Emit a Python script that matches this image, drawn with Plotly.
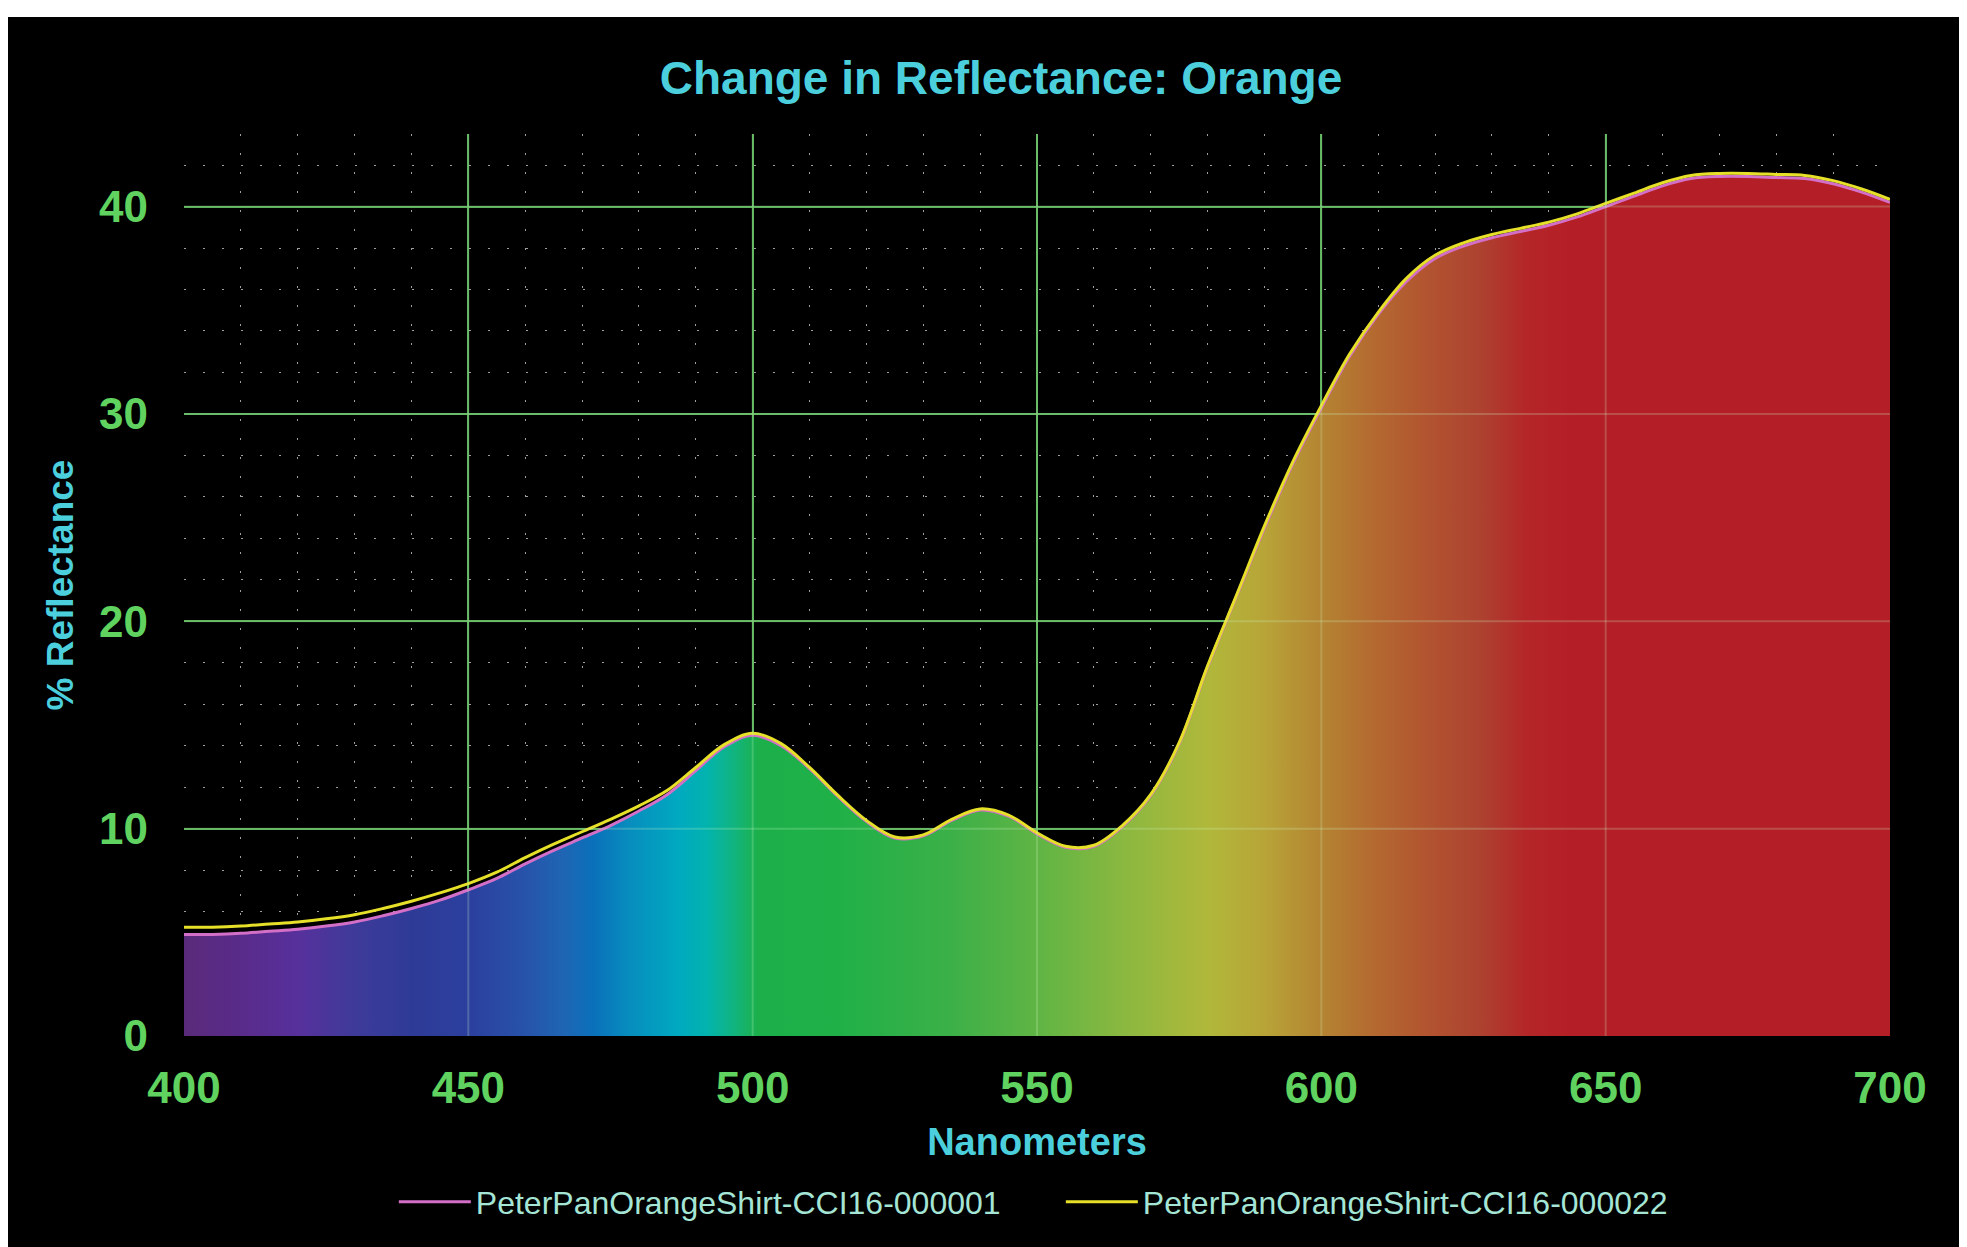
import plotly.graph_objects as go

# ---------------- data ----------------
wavelength_nm = [400, 405, 410, 415, 420, 425, 430, 435, 440, 445, 450, 455, 460, 465, 470,
                 475, 480, 485, 490, 495, 500, 505, 510, 515, 520, 525, 530, 535, 540, 545,
                 550, 555, 560, 565, 570, 575, 580, 585, 590, 595, 600, 605, 610, 615, 620,
                 625, 630, 635, 640, 645, 650, 655, 660, 665, 670, 675, 680, 685, 690, 695, 700]

shirt_000001 = [4.9, 4.9, 4.95, 5.05, 5.15, 5.3, 5.5, 5.8, 6.15, 6.55, 7.05, 7.6, 8.3, 8.95, 9.55,
                10.15, 10.85, 11.65, 12.8, 13.95, 14.5, 14.0, 12.9, 11.55, 10.35, 9.55, 9.65, 10.4, 10.9, 10.6,
                9.75, 9.1, 9.15, 10.1, 11.6, 14.1, 17.8, 21.15, 24.5, 27.6, 30.3, 32.8, 34.8, 36.4, 37.5,
                38.1, 38.5, 38.8, 39.1, 39.5, 40.0, 40.5, 41.0, 41.35, 41.45, 41.45, 41.4, 41.35, 41.1, 40.7, 40.2]

shirt_000022 = [5.25, 5.25, 5.3, 5.4, 5.5, 5.65, 5.85, 6.15, 6.5, 6.9, 7.35, 7.9, 8.6, 9.25, 9.85,
                10.45, 11.1, 11.85, 12.95, 14.05, 14.6, 14.1, 12.95, 11.6, 10.4, 9.6, 9.7, 10.45, 10.95, 10.65,
                9.8, 9.15, 9.2, 10.15, 11.65, 14.15, 17.85, 21.2, 24.6, 27.7, 30.4, 32.9, 34.9, 36.55, 37.65,
                38.25, 38.65, 38.95, 39.25, 39.65, 40.15, 40.65, 41.15, 41.5, 41.6, 41.6, 41.55, 41.5, 41.25, 40.85, 40.35]

series_names = ["PeterPanOrangeShirt-CCI16-000001", "PeterPanOrangeShirt-CCI16-000022"]

x_ticks = [400, 450, 500, 550, 600, 650, 700]
y_ticks = [0, 10, 20, 30, 40]

# spectrum colours along the wavelength axis (nm, colour)
spectrum_nm = [400, 410, 420, 430, 440, 450, 460, 467, 472, 478, 487, 492, 497, 501,
               515, 535, 551, 565, 580, 590, 600, 609, 618, 628, 636, 645, 700]
spectrum_colors = ["#5a2a7a", "#592b8a", "#57309c", "#3e3a9a", "#2e3b96", "#2c3f9e", "#2753aa",
                   "#1e66b4", "#0a70ba", "#078cbe", "#00a9c0", "#02b3ae", "#12b47c", "#1cb04a",
                   "#20b048", "#3cb048", "#62b544", "#8ab840", "#b0b83a", "#b8a438", "#b48432",
                   "#b46a30", "#b25530", "#ad4230", "#b42628", "#b41e26", "#b41e26"]

# ---------------- styling ----------------
FONT = "Liberation Sans, Arial, sans-serif"
CYAN = "#4ccfdc"
GREEN_TXT = "#5fd25f"
GRID = "#4fa84f"
PINK = "#d46fc8"
YELLOW = "#e6e029"

x_min, x_max = x_ticks[0], x_ticks[-1]
y_min, y_max = 0, 43.5

colorscale = [[(n - x_min) / (x_max - x_min), c] for n, c in zip(spectrum_nm, spectrum_colors)]
line_shape = dict(shape="spline", smoothing=1.0)

fig = go.Figure()

# spectrum fill under the first measurement
fig.add_trace(go.Scatter(
    x=wavelength_nm, y=shirt_000001, showlegend=False, hoverinfo="skip",
    mode="lines", line=dict(color="rgba(0,0,0,0)", width=0, **line_shape),
    fill="tozeroy",
    fillgradient=dict(type="horizontal", colorscale=colorscale, start=x_min, stop=x_max),
))
fig.add_trace(go.Scatter(
    x=wavelength_nm, y=shirt_000001, name=series_names[0],
    mode="lines", line=dict(color=PINK, width=3, **line_shape),
))
fig.add_trace(go.Scatter(
    x=wavelength_nm, y=shirt_000022, name=series_names[1],
    mode="lines", line=dict(color=YELLOW, width=3, **line_shape),
))

shapes = []
# faint major grid overlay visible over the spectrum fill
for xv in x_ticks[1:-1]:
    shapes.append(dict(type="line", xref="x", yref="y", x0=xv, x1=xv, y0=y_min, y1=y_max,
                       line=dict(color="rgba(210,255,200,0.22)", width=2), layer="above"))
for yv in y_ticks[1:]:
    shapes.append(dict(type="line", xref="x", yref="y", x0=x_min, x1=x_max, y0=yv, y1=yv,
                       line=dict(color="rgba(210,255,200,0.22)", width=2), layer="above"))
# white top strip of the scanned frame
shapes.append(dict(type="rect", xref="paper", yref="paper", x0=-0.2, x1=1.2, y0=1.1297, y1=1.5,
                   fillcolor="white", line=dict(width=0), layer="above"))

fig.update_layout(
    width=1967, height=1247,
    margin=dict(l=176, r=85, t=126, b=219),
    paper_bgcolor="black", plot_bgcolor="black",
    font=dict(family=FONT, color=CYAN),
    title=dict(text="<b>Change in Reflectance: Orange</b>",
               font=dict(family=FONT, size=46, color=CYAN),
               x=993 / 1967, xref="container", xanchor="center",
               y=1 - 70 / 1247, yref="container", yanchor="middle"),
    showlegend=True,
    legend=dict(orientation="h", x=0.123, xanchor="left", xref="paper",
                y=1 - 1194 / 1247, yref="container", yanchor="middle",
                font=dict(family=FONT, size=32, color="#a5e5d5"),
                bgcolor="rgba(0,0,0,0)", itemwidth=72,
                entrywidth=580, entrywidthmode="pixels"),
    shapes=shapes,
)

fig.update_xaxes(
    range=[x_min, x_max], tickvals=x_ticks, ticktext=[str(v) for v in x_ticks],
    showgrid=True, gridcolor=GRID, gridwidth=2,
    minor=dict(dtick=10, showgrid=True, gridcolor="rgba(225,225,225,0.7)", gridwidth=1.3,
               griddash="2px,17px"),
    zeroline=False, showline=False, ticks="",
    ticklabelstandoff=22,
    tickfont=dict(family=FONT, size=44, color=GREEN_TXT, weight="bold"),
    title=dict(text="<b>Nanometers</b>", font=dict(family=FONT, size=38, color=CYAN), standoff=17),
)
fig.update_yaxes(
    range=[y_min, y_max], tickvals=y_ticks, ticktext=[str(v) for v in y_ticks],
    showgrid=True, gridcolor=GRID, gridwidth=2,
    minor=dict(dtick=2, showgrid=True, gridcolor="rgba(225,225,225,0.7)", gridwidth=1.3,
               griddash="2px,17px"),
    zeroline=False, showline=False, ticks="",
    ticklabelstandoff=35,
    tickfont=dict(family=FONT, size=44, color=GREEN_TXT, weight="bold"),
    title=dict(text="<b>% Reflectance</b>", font=dict(family=FONT, size=37, color=CYAN), standoff=14),
)

fig.write_html("out.html")
